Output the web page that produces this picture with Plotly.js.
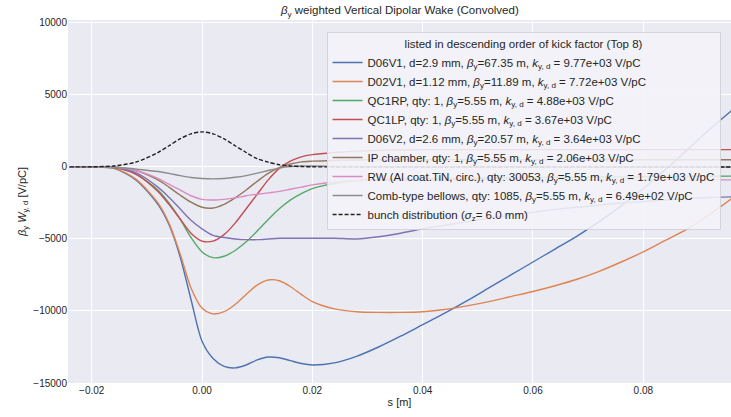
<!DOCTYPE html>
<html>
<head>
<meta charset="utf-8">
<script src="https://cdn.plot.ly/plotly-3.0.1.min.js"></script>
<style>
html,body{margin:0;padding:0;background:#fff;}
#chart{width:731px;height:417px;}
</style>
</head>
<body>
<div id="chart"></div>
<script>
// s positions [m]
const s = [-0.024,-0.02,-0.016,-0.012,-0.008,-0.006,-0.004,-0.002,0,0.002,0.004,0.006,0.008,0.010,0.012,0.014,0.016,0.018,0.020,0.024,0.028,0.032,0.036,0.040,0.044,0.048,0.052,0.056,0.060,0.064,0.068,0.072,0.076,0.080,0.084,0.088,0.092,0.096];

const d06v1 = [0,0,-100,-900,-2600,-4000,-6200,-9200,-12100,-13300,-13850,-13950,-13750,-13400,-13200,-13250,-13450,-13650,-13750,-13600,-13150,-12500,-11750,-10950,-10150,-9300,-8400,-7500,-6600,-5700,-4800,-3800,-2700,-1500,-200,1200,2600,3900];
const d02v1 = [0,0,-80,-850,-2500,-3900,-6000,-8400,-9800,-10200,-10050,-9550,-8850,-8200,-7850,-7900,-8300,-8850,-9350,-9850,-10050,-10100,-10100,-10050,-9900,-9650,-9350,-9000,-8650,-8250,-7800,-7250,-6600,-5900,-5100,-4300,-3300,-2200];
const qc1rp = [0,0,-20,-500,-1600,-2500,-3600,-4900,-5900,-6300,-6200,-5800,-5200,-4450,-3650,-2900,-2300,-1850,-1500,-1150,-950,-880,-850,-830,-810,-790,-770,-750,-730,-720,-710,-700,-690,-680,-670,-660,-650,-640];
const qc1lp = [0,0,-20,-500,-1700,-2600,-3600,-4600,-5150,-5150,-4700,-3900,-2900,-1900,-900,-100,400,700,850,1000,1100,1150,1180,1200,1200,1200,1200,1200,1200,1200,1200,1200,1200,1200,1200,1200,1200,1200];
const d06v2 = [0,0,-20,-400,-1400,-2100,-2900,-3700,-4300,-4750,-4900,-5000,-5050,-5050,-5000,-4950,-4950,-4950,-4950,-4950,-5000,-4850,-4600,-4300,-4050,-3800,-3550,-3350,-3150,-2950,-2800,-2650,-2500,-2400,-2300,-2200,-2120,-2080];
const ipch = [0,0,-10,-250,-900,-1400,-1950,-2450,-2800,-2850,-2600,-2150,-1600,-1000,-450,-50,200,350,400,450,480,490,500,500,500,500,500,500,500,500,500,500,500,500,500,500,500,500];
const rw = [0,0,-10,-250,-800,-1200,-1600,-2000,-2250,-2300,-2250,-2150,-2000,-1900,-1800,-1700,-1550,-1400,-1250,-1050,-950,-930,-920,-910,-910,-900,-900,-900,-900,-900,-900,-900,-900,-900,-900,-900,-900,-900];
const comb = [0,0,0,-150,-320,-450,-600,-730,-800,-830,-800,-720,-600,-430,-250,-80,30,60,60,40,20,10,0,0,0,0,0,0,0,0,0,0,0,0,0,0,0,0];
const bunch = [1,9,68,330,1000,1470,1950,2300,2430,2300,1950,1470,1000,570,330,150,68,25,9,0,0,0,0,0,0,0,0,0,0,0,0,0,0,0,0,0,0,0];

const names = [
 "D06V1, d=2.9 mm, <i>β</i><sub>y</sub>=67.35 m, <i>k</i><sub>y, d</sub> = 9.77e+03 V/pC",
 "D02V1, d=1.12 mm, <i>β</i><sub>y</sub>=11.89 m, <i>k</i><sub>y, d</sub> = 7.72e+03 V/pC",
 "QC1RP, qty: 1, <i>β</i><sub>y</sub>=5.55 m, <i>k</i><sub>y, d</sub> = 4.88e+03 V/pC",
 "QC1LP, qty: 1, <i>β</i><sub>y</sub>=5.55 m, <i>k</i><sub>y, d</sub> = 3.67e+03 V/pC",
 "D06V2, d=2.6 mm, <i>β</i><sub>y</sub>=20.57 m, <i>k</i><sub>y, d</sub> = 3.64e+03 V/pC",
 "IP chamber, qty: 1, <i>β</i><sub>y</sub>=5.55 m, <i>k</i><sub>y, d</sub> = 2.06e+03 V/pC",
 "RW (Al coat.TiN, circ.), qty: 30053, <i>β</i><sub>y</sub>=5.55 m, <i>k</i><sub>y, d</sub> = 1.79e+03 V/pC",
 "Comb-type bellows, qty: 1085, <i>β</i><sub>y</sub>=5.55 m, <i>k</i><sub>y, d</sub> = 6.49e+02 V/pC",
 "bunch distribution (<i>σ</i><sub>z</sub>= 6.0 mm)"
];
const series = [d06v1,d02v1,qc1rp,qc1lp,d06v2,ipch,rw,comb,bunch];
const colors = ["#4c72b0","#dd8452","#55a868","#c44e52","#8172b3","#937860","#da8bc3","#8c8c8c","#222222"];

const traces = series.map((ys,i)=>({
  x: s, y: ys, name: names[i], type: "scatter", mode: "lines",
  line: {color: colors[i], width: 1.4, shape: "spline", smoothing: 0.8, dash: i===8 ? "4px,2px" : "solid"}
}));

const fam = "Liberation Sans, Arial, sans-serif";
const txt = "#262626";
const layout = {
  width: 731, height: 417,
  margin: {l: 68, r: 0, t: 20, b: 34},
  paper_bgcolor: "#ffffff",
  plot_bgcolor: "#eaeaf2",
  font: {family: fam, size: 10, color: txt},
  title: {text: "<i>β</i><sub>y</sub> weighted Vertical Dipolar Wake (Convolved)", x: 0.547, xanchor: "center", y: 0.975, yanchor: "middle", yref: "container", font: {family: fam, size: 11.5, color: txt}},
  xaxis: {range: [-0.0243, 0.0959], tick0: 0, dtick: 0.02, tickformat: ".2f", showgrid: true, gridcolor: "#ffffff", gridwidth: 1, zeroline: false, showline: false, ticks: "",
          title: {text: "s [m]", font: {family: fam, size: 11, color: txt}, standoff: 3}},
  yaxis: {range: [-15000, 10200], tick0: 0, dtick: 5000, tickformat: "d", showgrid: true, gridcolor: "#ffffff", gridwidth: 1, zeroline: false, showline: false, ticks: "",
          title: {text: "<i>β</i><sub>y</sub> <i>W</i><sub>y, d</sub> [V/pC]", font: {family: fam, size: 11, color: txt}, standoff: 4}},
  showlegend: true,
  legend: {x: 0.39, y: 0.967, xanchor: "left", yanchor: "top", bgcolor: "rgba(243,243,248,0.88)", bordercolor: "rgba(210,210,215,0.9)", borderwidth: 1,
           font: {family: fam, size: 11.5, color: txt}, itemwidth: 30, tracegroupgap: 0,
           title: {text: "listed in descending order of kick factor (Top 8)", side: "top center", font: {family: fam, size: 11.5, color: txt}}}
};
Plotly.newPlot("chart", traces, layout, {displayModeBar: false, staticPlot: true});
</script>
</body>
</html>
